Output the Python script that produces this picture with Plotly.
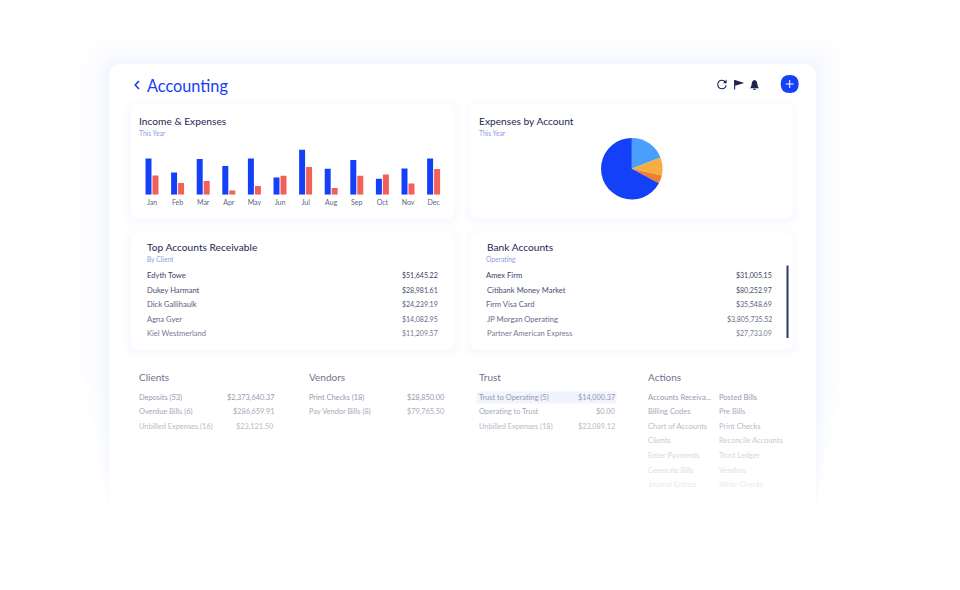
"""Accounting dashboard mock-up drawn with plotly."""

import plotly.graph_objects as go

W, H = 960, 590
FONT = "Lato"

MONTHS = ["Jan", "Feb", "Mar", "Apr", "May", "Jun", "Jul", "Aug", "Sep", "Oct", "Nov", "Dec"]
INCOME = [36.3, 22.3, 35.7, 28.7, 36.3, 17.3, 45, 26, 34.7, 16, 26.3, 36.3]
EXPENSES = [19.3, 11.7, 13.7, 4.3, 8.7, 19, 27.7, 6.7, 19, 20.3, 11.3, 25.7]

PIE_VALUES = [19.1, 9.5, 4.3, 67.1]
PIE_COLORS = ["#4a9ffb", "#f4ae41", "#f27d2e", "#1440f7"]

RECEIVABLE_NAMES = ["Edyth Towe", "Dukey Harmant", "Dick Gallihaulk", "Agna Gyer", "Kiel Westmerland"]
RECEIVABLE_VALUES = ["$51,645.22", "$28,981.61", "$24,239.19", "$14,082.95", "$11,209.57"]
BANK_NAMES = ["Amex Firm", "Citibank Money Market", "Firm Visa Card", "JP Morgan Operating", "Partner American Express"]
BANK_VALUES = ["$31,005.15", "$80,252.97", "$35,548.69", "$3,805,735.52", "$27,733.09"]
CARD_ROW_COLORS = ["#3a4064", "#494e72", "#585d7e", "#686c8a", "#777b96"]

CLIENT_NAMES = ["Deposits (53)", "Overdue Bills (6)", "Unbilled Expenses (16)"]
CLIENT_VALUES = ["$2,373,640.37", "$286,659.91", "$23,121.50"]
VENDOR_NAMES = ["Print Checks (18)", "Pay Vendor Bills (8)"]
VENDOR_VALUES = ["$28,850.00", "$79,765.50"]
TRUST_NAMES = ["Trust to Operating (5)", "Operating to Trust", "Unbilled Expenses (18)"]
TRUST_VALUES = ["$14,000.37", "$0.00", "$23,089.12"]
ACTIONS_LEFT = ["Accounts Receiva...", "Billing Codes", "Chart of Accounts", "Clients", "Enter Payments", "Generate Bills", "Journal Entries"]
ACTIONS_RIGHT = ["Posted Bills", "Pre Bills", "Print Checks", "Reconcile Accounts", "Trust Ledger", "Vendors", "Write Checks"]
LOWER_ROW_COLORS = ["#9598ad", "#a7aabb", "#b8bac8", "#c8cad5", "#d5d7de", "#dfe0e6", "#e8e9ed"]
ROW_Y_LOWER = [397, 411.5, 426, 440.5, 455, 470, 484.5]
ROW_Y_CARD = [275, 290, 304, 319, 333]


def px(x):
    return x / W


def py(y):
    return 1 - y / H


def pt(x, y):
    return f"{px(x):.5f},{py(y):.5f}"


def rounded(x0, y0, x1, y1, r):
    return (
        f"M{pt(x0 + r, y0)} L{pt(x1 - r, y0)} Q{pt(x1, y0)} {pt(x1, y0 + r)} "
        f"L{pt(x1, y1 - r)} Q{pt(x1, y1)} {pt(x1 - r, y1)} "
        f"L{pt(x0 + r, y1)} Q{pt(x0, y1)} {pt(x0, y1 - r)} "
        f"L{pt(x0, y0 + r)} Q{pt(x0, y0)} {pt(x0 + r, y0)} Z"
    )


shapes = []
annotations = []


def fill(path, color, line=None, width=0):
    shapes.append(dict(
        type="path", path=path, xref="paper", yref="paper", fillcolor=color,
        line=dict(color=line or "rgba(0,0,0,0)", width=width), layer="below",
    ))


def stroke(path, color, width):
    shapes.append(dict(
        type="path", path=path, xref="paper", yref="paper",
        line=dict(color=color, width=width), layer="below",
    ))


def text(x, y, s, size, color, anchor="left"):
    annotations.append(dict(
        x=px(x), y=py(y), xref="paper", yref="paper", text=s, showarrow=False,
        xanchor=anchor, yanchor="middle", xshift=0, yshift=0, borderpad=0, borderwidth=0,
        font=dict(family=FONT, size=size, color=color),
    ))


def card(x0, y0, x1, y1):
    for grow, alpha in [(8, 0.06), (5, 0.09), (2, 0.12)]:
        fill(rounded(x0 - grow, y0 - grow + 2, x1 + grow, y1 + grow + 2, 8 + grow), f"rgba(232,235,252,{alpha})")
    fill(rounded(x0, y0, x1, y1, 8), "#ffffff")


# soft glow around the panel, fading out towards the bottom
for grow, alpha, bottom in [
    (30, 0.03, 400), (24, 0.04, 430), (18, 0.05, 455),
    (13, 0.05, 475), (8, 0.06, 490), (4, 0.07, 502), (2, 0.07, 512),
]:
    fill(rounded(109 - grow, 64 - grow, 816 + grow, bottom, 12 + grow), f"rgba(222,227,253,{alpha})")
fill(rounded(109, 64, 816, 560, 12), "#ffffff")

card(131, 104, 454.5, 218)
card(470, 104, 793, 218)
card(131, 233, 454.5, 349.5)
card(470, 233, 793, 349.5)

# header
text(146.5, 85, "Accounting", 16.3, "#1440f7")
stroke(f"M{pt(139, 81)} L{pt(135.2, 85)} L{pt(139, 89)}", "#1440f7", 1.6)

# refresh icon
stroke(
    f"M{pt(725.6, 82)} Q{pt(723.5, 80)} {pt(721.5, 80.3)} Q{pt(717.8, 81)} {pt(717.8, 84.5)} "
    f"Q{pt(718, 88.7)} {pt(722, 88.8)} Q{pt(725.6, 88.6)} {pt(726, 85.2)}",
    "#1e2550", 1.1,
)
fill(f"M{pt(726.6, 79.5)} L{pt(726.6, 83.2)} L{pt(723, 83.2)} Z", "#1e2550")
# flag icon
stroke(f"M{pt(734.6, 80)} L{pt(734.6, 89.5)}", "#1e2550", 1.1)
fill(f"M{pt(735, 80)} L{pt(744.2, 83)} L{pt(735, 85.8)} Z", "#1e2550")
# bell icon
fill(
    f"M{pt(754.5, 80)} Q{pt(757.2, 80.5)} {pt(757.3, 84)} L{pt(758, 87)} L{pt(759.2, 88.3)} "
    f"L{pt(749.8, 88.3)} L{pt(751, 87)} L{pt(751.7, 84)} Q{pt(751.8, 80.5)} {pt(754.5, 80)} Z",
    "#1e2550",
)
fill(f"M{pt(753, 88.8)} L{pt(756, 88.8)} L{pt(755.3, 90)} L{pt(753.7, 90)} Z", "#1e2550")
# add button
fill(rounded(780.7, 75, 798.7, 93, 9), "#1440f7")
stroke(f"M{pt(789.7, 80)} L{pt(789.7, 88)}", "#ffffff", 1)
stroke(f"M{pt(785.7, 84)} L{pt(793.7, 84)}", "#ffffff", 1)

# card headings
for x, y, title, sub in [
    (139, 121, "Income &amp; Expenses", "This Year"),
    (479, 121, "Expenses by Account", "This Year"),
    (146.5, 247, "Top Accounts Receivable", "By Client"),
    (486.5, 247, "Bank Accounts", "Operating"),
]:
    text(x, y, title, 10.2, "#1f2552")
    text(x, y + (11.5 if y < 200 else 12), sub, 6.7, "#8f9ce4")

for names, values, x0, x1 in [
    (RECEIVABLE_NAMES, RECEIVABLE_VALUES, 146.5, 438),
    (BANK_NAMES, BANK_VALUES, 486.5, 772),
]:
    for name, value, y, color in zip(names, values, ROW_Y_CARD, CARD_ROW_COLORS):
        text(x0, y, name, 7.6, color)
        text(x1, y, value, 7, color, "right")

# scrollbar in bank accounts
stroke(f"M{pt(787.5, 265.5)} L{pt(787.5, 338)}", "#2e3768", 2)

# lower lists
fill(rounded(476.5, 391.5, 616.5, 403.5, 1), "#f1f3fd")
for x, title in [(139, "Clients"), (309, "Vendors"), (479, "Trust"), (648, "Actions")]:
    text(x, 377, title, 10, "#6f7390")

for names, values, x0, x1 in [
    (CLIENT_NAMES, CLIENT_VALUES, 139, 274),
    (VENDOR_NAMES, VENDOR_VALUES, 309, 444.5),
    (TRUST_NAMES, TRUST_VALUES, 479, 614.5),
]:
    for name, value, y, color in zip(names, values, ROW_Y_LOWER, LOWER_ROW_COLORS):
        text(x0, y, name, 7.4, color)
        text(x1, y, value, 7.3, color, "right")

for left, right, y, color in zip(ACTIONS_LEFT, ACTIONS_RIGHT, ROW_Y_LOWER, LOWER_ROW_COLORS):
    text(648, y, left, 7.5, color)
    text(718.5, y, right, 7.5, color)

fig = go.Figure()
fig.add_bar(x=MONTHS, y=INCOME, marker=dict(color="#1440f7", line=dict(width=0)), hoverinfo="x+y")
fig.add_bar(x=MONTHS, y=EXPENSES, marker=dict(color="#f2605a", line=dict(width=0)), hoverinfo="x+y")
fig.add_pie(
    values=PIE_VALUES, sort=False, direction="clockwise", rotation=0,
    marker=dict(colors=PIE_COLORS, line=dict(width=0)), textinfo="none",
    domain=dict(x=[px(601), px(662.6)], y=[py(199.5), py(137.9)]),
)
fig.update_layout(
    width=W, height=H, autosize=False, margin=dict(l=0, r=0, t=0, b=0),
    paper_bgcolor="#ffffff", plot_bgcolor="rgba(0,0,0,0)", showlegend=False,
    barmode="group", bargap=0.453, bargroupgap=0.143,
    shapes=shapes, annotations=annotations,
    font=dict(family=FONT),
    xaxis=dict(
        domain=[px(139.2), px(446.4)], showgrid=False, zeroline=False, showline=False,
        ticks="", tickfont=dict(family=FONT, size=7, color="#60647f"), fixedrange=True,
        ticklabelstandoff=2,
    ),
    yaxis=dict(
        domain=[py(194.7), py(144.7)], range=[0, 50], visible=False, fixedrange=True,
    ),
)

# the browser's default body margin would push the figure off by 8px
fig.write_html("out.html", config={"displayModeBar": False}, post_script="document.body.style.margin='0';")
